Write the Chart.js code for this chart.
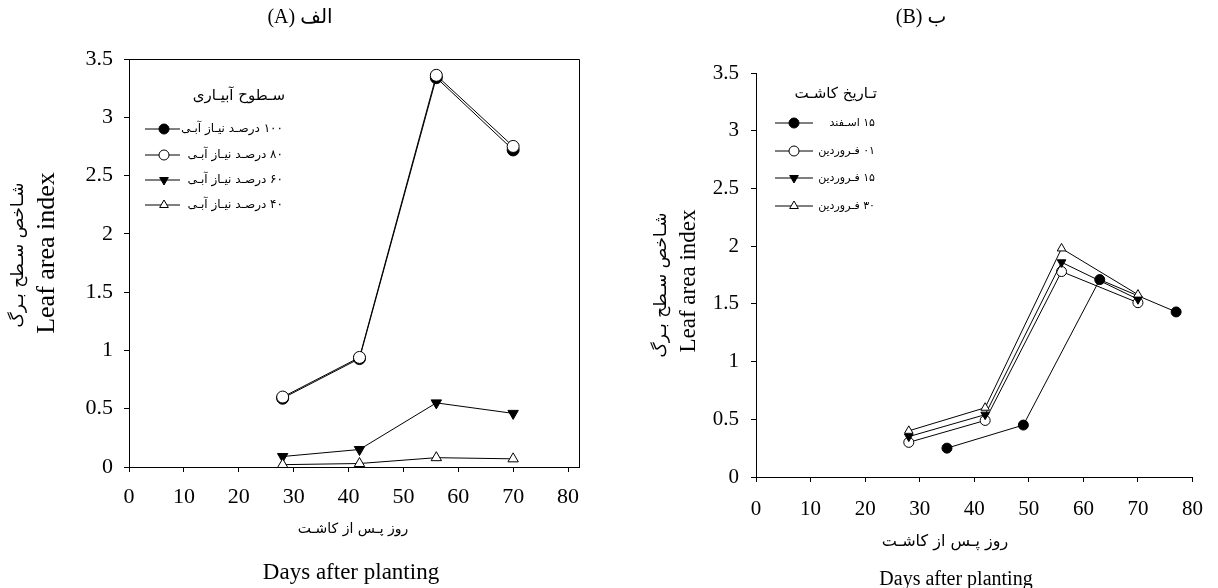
<!DOCTYPE html>
<html>
<head>
<meta charset="utf-8">
<script src="https://cdn.jsdelivr.net/npm/chart.js@4.4.1/dist/chart.umd.min.js"></script>
<style>
  body { margin: 0; background: #fff; }
  #wrap { position: relative; width: 1218px; height: 588px; overflow: hidden; font-family: "Liberation Serif", "DejaVu Sans", serif; color: #000; }
  canvas { position: absolute; top: 0; }
  .lbl { position: absolute; white-space: nowrap; transform: translate(-50%, -50%); }
  .rot { transform: translate(-50%, -50%) rotate(-90deg); }
</style>
</head>
<body>
<div id="wrap">
  <canvas id="chartA" width="609" height="588" style="left:0"></canvas>
  <canvas id="chartB" width="609" height="588" style="left:609px"></canvas>

  <div class="lbl" dir="rtl" style="left:300px;top:16px;font-size:20px">الف (A)</div>
  <div class="lbl" dir="rtl" style="left:921px;top:16px;font-size:20px">ب (B)</div>

  <div class="lbl rot" dir="rtl" style="left:17px;top:255px;font-size:17px;font-family:'DejaVu Sans'">شـاخص سـطح بـرگ</div>
  <div class="lbl rot" style="left:46px;top:253px;font-size:26px">Leaf area index</div>
  <div class="lbl rot" dir="rtl" style="left:660px;top:285px;font-size:17px;font-family:'DejaVu Sans'">شـاخص سـطح بـرگ</div>
  <div class="lbl rot" style="left:688px;top:281px;font-size:23px">Leaf area index</div>

  <div class="lbl" dir="rtl" style="left:353px;top:528px;font-size:14px;font-family:'DejaVu Sans'">روز پـس از کاشـت</div>
  <div class="lbl" style="left:351px;top:572px;font-size:23px">Days after planting</div>
  <div class="lbl" dir="rtl" style="left:945px;top:540px;font-size:16px;font-family:'DejaVu Sans'">روز پـس از کاشـت</div>
  <div class="lbl" style="left:956px;top:578px;font-size:20px">Days after planting</div>
</div>
<script>
// chart A - irrigation levels
var daysA = [28, 42, 56, 70];
var irr100 = [0.59, 0.93, 3.34, 2.72];
var irr80 = [0.60, 0.94, 3.36, 2.75];
var irr60 = [0.09, 0.15, 0.55, 0.46];
var irr40 = [0.02, 0.03, 0.08, 0.07];
var namesA = ["۱۰۰ درصـد نیـاز آبـی", "۸۰ درصـد نیـاز آبـی", "۶۰ درصـد نیـاز آبـی", "۴۰ درصـد نیـاز آبـی"];
var legendTitleA = "سـطوح آبیـاری";

// chart B - planting dates
var daysB1 = [35, 49, 63, 77];
var daysB = [28, 42, 56, 70];
var esfand15 = [0.25, 0.45, 1.71, 1.43];
var farv01 = [0.30, 0.49, 1.78, 1.51];
var farv15 = [0.35, 0.54, 1.86, 1.54];
var farv30 = [0.40, 0.60, 1.98, 1.58];
var namesB = ["۱۵ اسـفند", "۰۱ فـروردین", "۱۵ فـروردین", "۳۰ فـروردین"];
var legendTitleB = "تـاریخ کاشـت";

var yTicks = [0, 0.5, 1, 1.5, 2, 2.5, 3, 3.5];
var xTicks = [0, 10, 20, 30, 40, 50, 60, 70, 80];

var markers = [
  { pointStyle: "circle", rotation: 0, fill: "#000" },
  { pointStyle: "circle", rotation: 0, fill: "#fff" },
  { pointStyle: "triangle", rotation: 180, fill: "#000" },
  { pointStyle: "triangle", rotation: 0, fill: "#fff" }
];

function makeSet(xs, ys, i, r) {
  var pts = xs.map(function (x, k) { return { x: x, y: ys[k] }; });
  return {
    data: pts,
    order: 4 - i,
    borderColor: "#000",
    borderWidth: 1,
    pointStyle: markers[i].pointStyle,
    rotation: markers[i].rotation,
    pointRadius: r,
    pointBorderWidth: 1,
    pointBorderColor: "#000",
    pointBackgroundColor: markers[i].fill,
    fill: false,
    tension: 0
  };
}

function axes(xmax, size, xpad, ypad) {
  var f = { family: "Liberation Serif", size: size };
  return {
    x: {
      type: "linear", min: 0, max: xmax,
      afterFit: function (s) { s.height = 40; },
      afterBuildTicks: function (s) { s.ticks = xTicks.map(function (v) { return { value: v }; }); },
      ticks: { font: f, color: "#000", padding: xpad, maxRotation: 0, callback: function (v) { return String(v); } },
      grid: { drawOnChartArea: false, tickLength: 5, color: "#000" },
      border: { color: "#000", width: 1 }
    },
    y: {
      type: "linear", min: 0, max: 3.5,
      afterFit: function (s) { s.width = 60; },
      afterBuildTicks: function (s) { s.ticks = yTicks.map(function (v) { return { value: v }; }); },
      ticks: { font: f, color: "#000", padding: ypad, callback: function (v) { return String(v); } },
      grid: { drawOnChartArea: false, tickLength: 5, color: "#000" },
      border: { color: "#000", width: 1 }
    }
  };
}

// legend + frame drawn by hand to look like the sigmaplot one
var drawExtras = {
  id: "drawExtras",
  afterDatasetsDraw: function (chart, args, opts) {
    var ctx = chart.ctx;
    var area = chart.chartArea;
    ctx.save();
    if (opts.frame) {
      ctx.strokeStyle = "#000";
      ctx.lineWidth = 1;
      ctx.beginPath();
      ctx.moveTo(area.left, area.top + 0.5);
      ctx.lineTo(area.right + 0.5, area.top + 0.5);
      ctx.lineTo(area.right + 0.5, area.bottom);
      ctx.stroke();
    }
    var lg = opts.legend;
    ctx.fillStyle = "#000";
    ctx.direction = "rtl";
    ctx.textAlign = "right";
    ctx.textBaseline = "middle";
    ctx.font = "15px 'DejaVu Sans'";
    ctx.fillText(lg.title, lg.titleX, lg.titleY);
    ctx.font = lg.font + "px 'DejaVu Sans'";
    lg.names.forEach(function (name, i) {
      var y = lg.rows[i];
      ctx.strokeStyle = "#000";
      ctx.lineWidth = 1;
      ctx.beginPath();
      ctx.moveTo(lg.x0, y);
      ctx.lineTo(lg.x1, y);
      ctx.stroke();
      ctx.fillStyle = markers[i].fill;
      Chart.helpers.drawPoint(ctx, {
        pointStyle: markers[i].pointStyle, rotation: markers[i].rotation,
        radius: lg.r, borderWidth: 1
      }, lg.mx, y);
      ctx.fillStyle = "#000";
      ctx.fillText(name, lg.textX, y);
    });
    ctx.restore();
  }
};

new Chart("chartA", {
  type: "line",
  data: {
    datasets: [
      makeSet(daysA, irr100, 0, 6),
      makeSet(daysA, irr80, 1, 6),
      makeSet(daysA, irr60, 2, 6),
      makeSet(daysA, irr40, 3, 6)
    ]
  },
  options: {
    responsive: false,
    animation: false,
    layout: { padding: { left: 69, top: 59, right: 30, bottom: 81 } },
    scales: axes(82, 22, 12, 11),
    plugins: {
      legend: { display: false },
      tooltip: { enabled: false },
      drawExtras: {
        frame: true,
        legend: { title: legendTitleA, titleX: 285, titleY: 96, names: namesA, font: 12,
          rows: [129, 155, 180, 205], x0: 145, x1: 180, mx: 164, r: 5, textX: 283 }
      }
    }
  },
  plugins: [drawExtras]
});

new Chart("chartB", {
  type: "line",
  data: {
    datasets: [
      makeSet(daysB1, esfand15, 0, 5),
      makeSet(daysB, farv01, 1, 5),
      makeSet(daysB, farv15, 2, 5),
      makeSet(daysB, farv30, 3, 5)
    ]
  },
  options: {
    responsive: false,
    animation: false,
    layout: { padding: { left: 87, top: 73, right: 20, bottom: 71 } },
    scales: axes(80, 21, 15, 12),
    plugins: {
      legend: { display: false },
      tooltip: { enabled: false },
      drawExtras: {
        frame: false,
        legend: { title: legendTitleB, titleX: 268, titleY: 94, names: namesB, font: 11,
          rows: [123, 151, 178, 206], x0: 166, x1: 204, mx: 185, r: 5, textX: 266 }
      }
    }
  },
  plugins: [drawExtras]
});
</script>
</body>
</html>
